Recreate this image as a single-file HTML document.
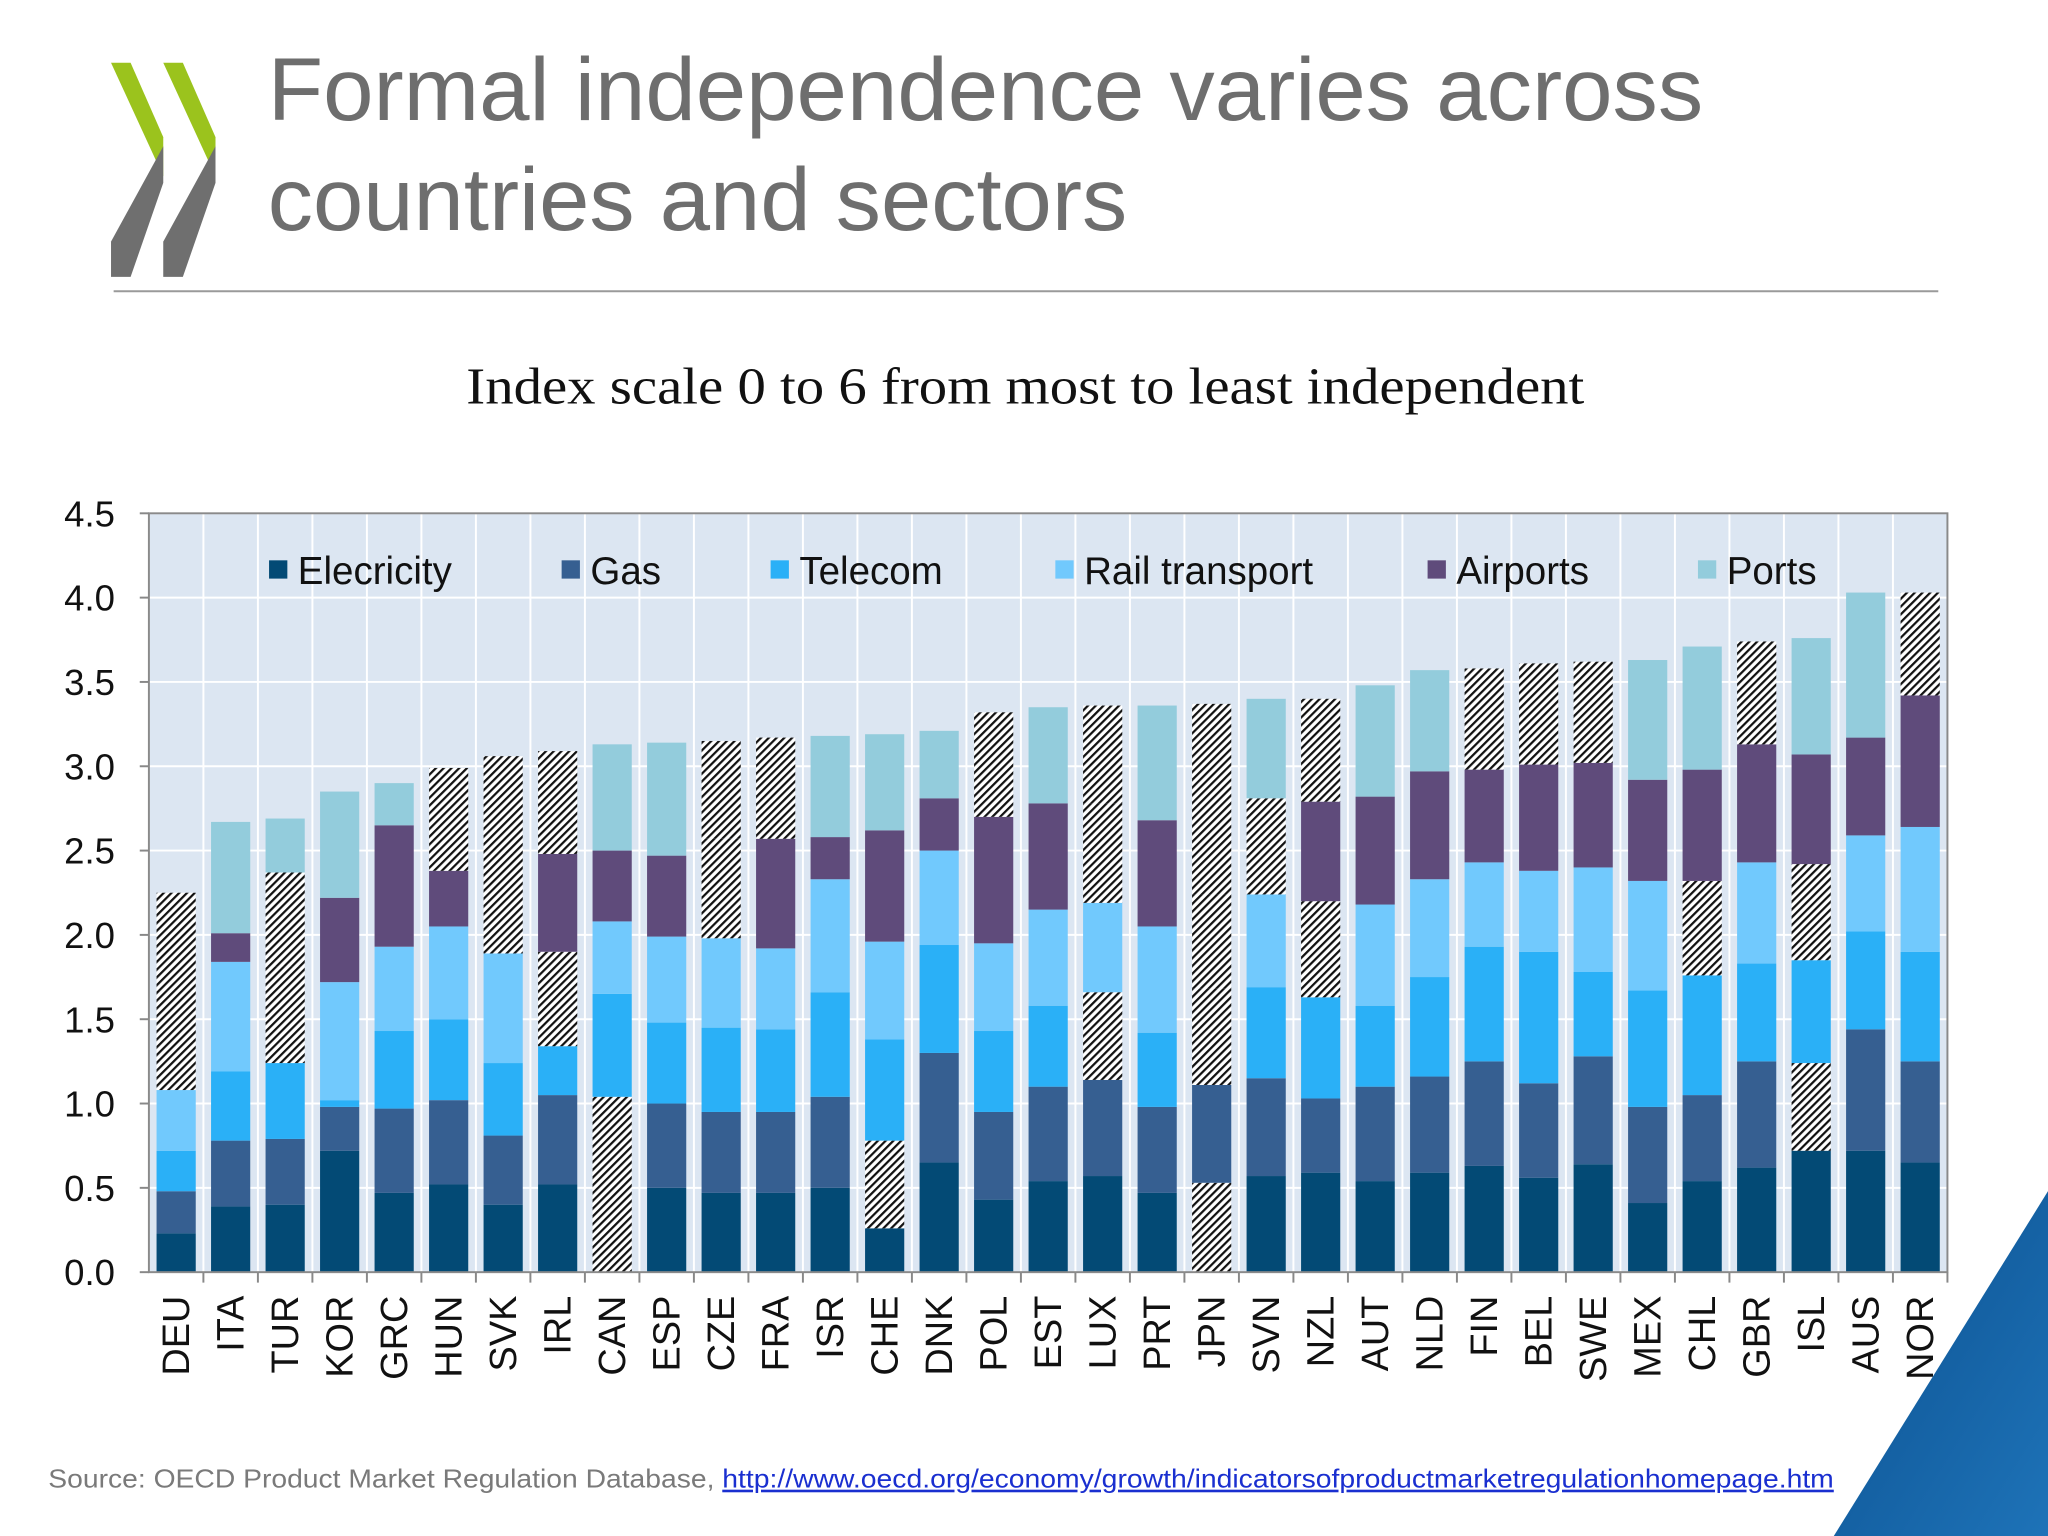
<!DOCTYPE html>
<html><head><meta charset="utf-8"><title>Formal independence</title>
<style>html,body{margin:0;padding:0;background:#fff;overflow:hidden}svg{display:block}</style>
</head><body>
<svg id="root" width="2048" height="1536" viewBox="0 0 1568 1176" xmlns="http://www.w3.org/2000/svg">
<defs>
<pattern id="hatch" patternUnits="userSpaceOnUse" width="4.2" height="4.2" patternTransform="rotate(-45)">
<rect width="4.2" height="4.2" fill="#fff"/><rect width="4.2" height="1.7" fill="#111"/></pattern>
<linearGradient id="tri" x1="0" y1="0" x2="1" y2="1"><stop offset="0" stop-color="#0b4f8e"/><stop offset="1" stop-color="#1e73b8"/></linearGradient>
</defs>
<g>
<polygon points="85,48 100,48 125,105 125,135" fill="#9bc31d"/>
<polygon points="125,112 125,140 100,212 85,212 85,185" fill="#6f6f6f"/>
<polygon points="125,48 140,48 165,105 165,135" fill="#9bc31d"/>
<polygon points="165,112 165,140 140,212 125,212 125,185" fill="#6f6f6f"/>
</g>
<text x="205" y="92" font-family="Liberation Sans, sans-serif" font-size="68" fill="#6e6e6e" textLength="1099" lengthAdjust="spacingAndGlyphs">Formal independence varies across</text>
<text x="205" y="176" font-family="Liberation Sans, sans-serif" font-size="68" fill="#6e6e6e" textLength="658" lengthAdjust="spacingAndGlyphs">countries and sectors</text>
<line x1="87" y1="223" x2="1484" y2="223" stroke="#9a9a9a" stroke-width="1.5"/>
<text x="357" y="309" font-family="Liberation Serif, serif" font-size="40" fill="#111" textLength="856" lengthAdjust="spacingAndGlyphs">Index scale 0 to 6 from most to least independent</text>
<g id="chart"></g>
<text x="37" y="1139" font-family="Liberation Sans, sans-serif" font-size="20" fill="#7a7a7a" textLength="510" lengthAdjust="spacingAndGlyphs">Source: OECD Product Market Regulation Database,</text>
<text x="553" y="1139" font-family="Liberation Sans, sans-serif" font-size="20" fill="#1a2fd0" text-decoration="underline" textLength="851" lengthAdjust="spacingAndGlyphs">http://www.oecd.org/economy/growth/indicatorsofproductmarketregulationhomepage.htm</text>
<polygon points="1568,912 1568,1176 1404,1176" fill="url(#tri)"/>
</svg>
<script>
const countries = ["DEU","ITA","TUR","KOR","GRC","HUN","SVK","IRL","CAN","ESP","CZE","FRA","ISR","CHE","DNK","POL","EST","LUX","PRT","JPN","SVN","NZL","AUT","NLD","FIN","BEL","SWE","MEX","CHL","GBR","ISL","AUS","NOR"];
const seriesNames = ["Elecricity","Gas","Telecom","Rail transport","Airports","Ports"];
const electricity = [.23,.39,.40,.72,.47,.52,.40,.52,.52,.50,.47,.47,.50,.26,.65,.43,.54,.57,.47,.53,.57,.59,.54,.59,.63,.56,.64,.41,.54,.62,.72,.72,.65];
const gas         = [.25,.39,.39,.26,.50,.50,.41,.53,.52,.50,.48,.48,.54,.52,.65,.52,.56,.57,.51,.58,.58,.44,.56,.57,.62,.56,.64,.57,.51,.63,.52,.72,.60];
const telecom     = [.24,.41,.45,.04,.46,.48,.43,.29,.61,.48,.50,.49,.62,.60,.64,.48,.48,.52,.44,.57,.54,.60,.48,.59,.68,.78,.50,.69,.71,.58,.61,.58,.65];
const rail        = [.36,.65,.57,.70,.50,.55,.65,.56,.43,.51,.53,.48,.67,.58,.56,.52,.57,.53,.63,.56,.55,.57,.60,.58,.50,.48,.62,.65,.56,.60,.57,.57,.74];
const airports    = [.59,.17,.56,.50,.72,.33,.59,.58,.42,.48,.59,.65,.25,.66,.31,.75,.63,.59,.63,.56,.57,.59,.64,.64,.55,.63,.62,.60,.66,.70,.65,.58,.78];
const ports       = [.58,.66,.32,.63,.25,.61,.58,.61,.63,.67,.58,.60,.60,.57,.40,.62,.57,.58,.68,.57,.59,.61,.66,.60,.60,.60,.60,.71,.73,.61,.69,.86,.61];
const hatched = ["000011","000000","000110","000000","000000","000001","000011","000101","110000","000000","000011","000001","000000","010000","000000","000001","000000","001011","000000","101111","000010","000101","000000","000000","000001","000001","000001","000000","000100","000001","010100","000000","000001"];
const yTicks = ["0.0","0.5","1.0","1.5","2.0","2.5","3.0","3.5","4.0","4.5"];
const colors = ["#034a75","#365f91","#2ab0f7","#71c9fd","#5f4b7b","#93ccdc"];

const NS = "http://www.w3.org/2000/svg";
const X0 = 114, X1 = 1491, Y0 = 974, Y1 = 393, YMAX = 4.5;
const band = (X1 - X0) / countries.length;
function y(v){ return Y0 - v / YMAX * (Y0 - Y1); }
function xc(i){ return X0 + band * (i + 0.5); }
function mk(tag, attrs, parent){ const e = document.createElementNS(NS, tag); for (const k in attrs) e.setAttribute(k, attrs[k]); parent.appendChild(e); return e; }
const chart = document.getElementById("chart");
const data = [electricity, gas, telecom, rail, airports, ports];

const bg = mk("rect", {x:X0, y:Y1, width:X1-X0, height:Y0-Y1, fill:"#dce6f2"}, chart);


for (let i = 1; i < yTicks.length; i++) {
  const g = mk("line", {x1:X0, x2:X1, y1:y(parseFloat(yTicks[i])), y2:y(parseFloat(yTicks[i])), stroke:"#fff", "stroke-width":1.5}, chart);
  
  
}
for (let i = 1; i < countries.length; i++) {
  const g = mk("line", {x1:X0+band*i, x2:X0+band*i, y1:Y1, y2:Y0, stroke:"#fff", "stroke-width":1.5}, chart);
  
  
}
const bw = 30;
countries.forEach((c, i) => {
  let cum = 0;
  for (let s = 0; s < 6; s++) {
    const v = data[s][i];
    const h = hatched[i][s] === "1";
    const r = mk("rect", {x:xc(i)-bw/2, y:y(cum+v), width:bw, height:y(cum)-y(cum+v), fill: h ? "url(#hatch)" : colors[s]}, chart);
    
    
    cum += v;
  }
  const t = mk("text", {transform:"translate(" + (xc(i)+10) + ",992) rotate(-90)", "text-anchor":"end", "font-family":"Liberation Sans, sans-serif", "font-size":29, fill:"#111"}, chart);
  t.textContent = c;
  
  
  const tk = mk("line", {x1:X0+band*(i+1), x2:X0+band*(i+1), y1:Y0, y2:Y0+8, stroke:"#888", "stroke-width":1.5}, chart);
  
  
});
const border = mk("rect", {x:X0, y:Y1, width:X1-X0, height:Y0-Y1, fill:"none", stroke:"#8a8a8a", "stroke-width":1.5}, chart);


yTicks.forEach(tv => {
  const t = mk("text", {x:88, y:y(parseFloat(tv))+10, "text-anchor":"end", "font-family":"Liberation Sans, sans-serif", "font-size":28, fill:"#111"}, chart);
  t.textContent = tv;
  
  
  const tk = mk("line", {x1:X0-7, x2:X0, y1:y(parseFloat(tv)), y2:y(parseFloat(tv)), stroke:"#888", "stroke-width":1.5}, chart);
  
  
});
const legX = [206, 430, 590, 808, 1093, 1300];
seriesNames.forEach((n, s) => {
  const sq = mk("rect", {x:legX[s], y:429, width:14, height:14, fill:colors[s]}, chart);
  
  
  const t = mk("text", {x:legX[s]+22, y:447, "font-family":"Liberation Sans, sans-serif", "font-size":29.5, fill:"#111"}, chart);
  t.textContent = n;
  
  
});
</script>
</body></html>
